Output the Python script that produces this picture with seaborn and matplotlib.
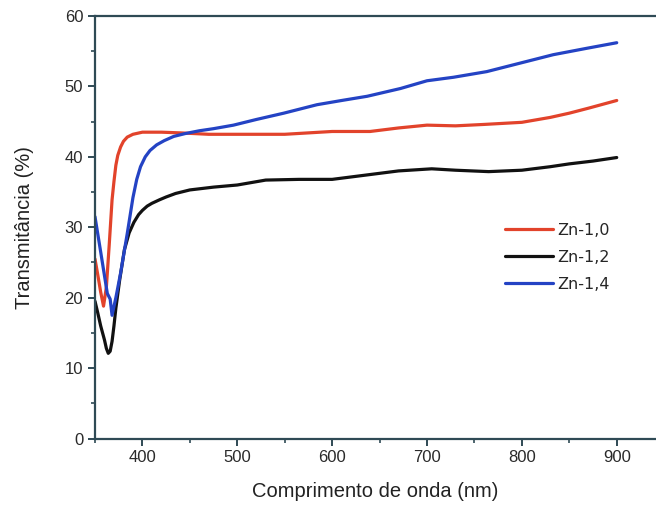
import numpy as np
import pandas as pd
import matplotlib
matplotlib.use("Agg")
import matplotlib.pyplot as plt
import seaborn as sns
from matplotlib.ticker import MultipleLocator

# Transmittance spectra (wavelength in nm, transmittance in %)
wl_zn10 = [350, 353, 356, 359, 362, 365, 368, 370, 372, 374, 377, 380, 384, 390, 400, 420,
           440, 470, 500, 550, 600, 640, 670, 700, 730, 760, 800, 830, 850, 870, 900]
t_zn10 = [25.5, 23.2, 20.8, 18.8, 21.5, 27.5, 33.9, 36.5, 38.8, 40.2, 41.4, 42.2, 42.8, 43.2, 43.5, 43.5,
          43.4, 43.2, 43.2, 43.2, 43.6, 43.6, 44.1, 44.5, 44.4, 44.6, 44.9, 45.6, 46.2, 46.9, 48.0]

wl_zn12 = [350, 353, 356, 360, 362, 364, 366, 368, 370, 372, 376, 381, 386, 391, 396, 400, 405,
           410, 418, 425, 435, 450, 475, 500, 530, 565, 600, 635, 670, 705, 730, 765, 800,
           830, 850, 875, 900]
t_zn12 = [19.5, 17.8, 16.0, 14.0, 12.8, 12.1, 12.4, 13.8, 16.0, 18.5, 22.5, 26.8, 29.2, 30.7, 31.8, 32.4, 33.0,
          33.4, 33.9, 34.3, 34.8, 35.3, 35.7, 36.0, 36.7, 36.8, 36.8, 37.4, 38.0, 38.3, 38.1, 37.9, 38.1,
          38.6, 39.0, 39.4, 39.9]

wl_zn14 = [350, 356, 363, 366, 368, 372, 377, 384, 390, 394, 398, 403, 408, 415, 423, 433, 445,
           460, 475, 496, 520, 549, 584, 610, 637, 672, 700, 728, 763, 798, 833, 868, 900]
t_zn14 = [31.5, 26.5, 20.6, 19.8, 17.5, 20.0, 23.5, 29.1, 34.2, 36.8, 38.6, 40.0, 40.9, 41.7, 42.3, 42.9, 43.3,
          43.7, 44.0, 44.5, 45.3, 46.2, 47.4, 48.0, 48.6, 49.7, 50.8, 51.3, 52.1, 53.3, 54.5, 55.4, 56.2]

labels = ["Zn-1,0", "Zn-1,2", "Zn-1,4"]
colors = ["#e2432b", "#111111", "#2443c4"]

df = pd.concat([
    pd.DataFrame({"wl": wl_zn10, "T": t_zn10, "amostra": labels[0]}),
    pd.DataFrame({"wl": wl_zn12, "T": t_zn12, "amostra": labels[1]}),
    pd.DataFrame({"wl": wl_zn14, "T": t_zn14, "amostra": labels[2]}),
], ignore_index=True)

sns.set_theme(style="ticks")
plt.rcParams["font.family"] = ["Liberation Sans", "DejaVu Sans"]

fig = plt.figure(figsize=(6.56, 5.07), dpi=100)
ax = fig.add_axes([0.1448, 0.135, 0.8552, 0.8335])

sns.lineplot(data=df, x="wl", y="T", hue="amostra", palette=colors,
             hue_order=labels, linewidth=2.3, sort=False, estimator=None, ax=ax,
             solid_joinstyle="round", solid_capstyle="round")

spine_col = "#2f4a55"
ax.set_xlim(350, 941.4)
ax.set_ylim(0, 60)
ax.xaxis.set_minor_locator(MultipleLocator(50))
ax.yaxis.set_major_locator(MultipleLocator(10))
ax.yaxis.set_minor_locator(MultipleLocator(5))
ax.set_xticks([400, 500, 600, 700, 800, 900])

for s in ["left", "bottom", "top"]:
    ax.spines[s].set_color(spine_col)
    ax.spines[s].set_linewidth(1.6)
ax.spines["right"].set_visible(False)

ax.tick_params(which="major", direction="out", length=5, width=1.4, color=spine_col,
               labelsize=12, labelcolor="#2a2a2a", top=False, right=False)
ax.tick_params(which="minor", direction="out", length=3, width=1.2, color=spine_col,
               top=False, right=False)

ax.set_xlabel("Comprimento de onda (nm)", fontsize=14.5, color="#222222", labelpad=12)
ax.set_ylabel("Transmitância (%)", fontsize=14.5, color="#222222", labelpad=22)

leg = ax.legend(loc="upper left", bbox_to_anchor=(0.705, 0.545), frameon=False,
                handlelength=3.0, handletextpad=0.3, labelspacing=0.75,
                prop={"family": ["DejaVu Sans"], "size": 11.5})
for line in leg.get_lines():
    line.set_linewidth(2.3)

fig.savefig("out.png", dpi=100)
